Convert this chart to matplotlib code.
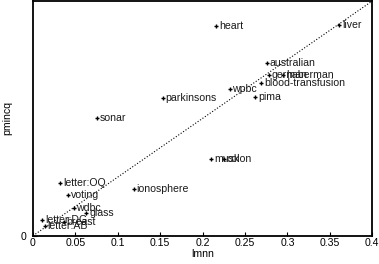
import matplotlib
matplotlib.use("Agg")
import matplotlib.pyplot as plt

# per-dataset error rates: lmnn (x) vs pmincq (y)
names = ["heart", "liver", "australian", "german", "haberman", "blood-transfusion",
         "wpbc", "pima", "parkinsons", "sonar", "musk", "colon",
         "letter:OQ", "voting", "ionosphere", "wdbc", "glass", "breast",
         "letter:DG", "letter:AB"]
lmnn = [0.216, 0.361, 0.276, 0.278, 0.295, 0.269,
        0.232, 0.262, 0.153, 0.075, 0.210, 0.225,
        0.032, 0.041, 0.119, 0.048, 0.063, 0.036,
        0.011, 0.014]
pmincq = [0.357, 0.360, 0.294, 0.274, 0.274, 0.260,
          0.250, 0.237, 0.235, 0.201, 0.131, 0.131,
          0.090, 0.069, 0.080, 0.047, 0.039, 0.024,
          0.026, 0.017]
xticks = [0, 0.05, 0.1, 0.15, 0.2, 0.25, 0.3, 0.35, 0.4]

plt.rcParams["font.family"] = ["Liberation Sans", "DejaVu Sans"]
fig = plt.figure(figsize=(3.79, 2.64), dpi=100)
ax = fig.add_axes([0.087, 0.107, 0.895, 0.889])

ax.plot([0, 0.4], [0, 0.4], ":", color="black", linewidth=0.8)
ax.plot(lmnn, pmincq, "+", color="black", markersize=3, markeredgewidth=1)
for n, x, y in zip(names, lmnn, pmincq):
    ax.annotate(n, (x, y), xytext=(2, 0), textcoords="offset points",
                va="center", ha="left", fontsize=7.6, color="#1a1a1a")

ax.set_xlim(0, 0.4)
ax.set_ylim(0, 0.4)
ax.set_xticks(xticks)
ax.set_xticklabels(["0", "0.05", "0.1", "0.15", "0.2", "0.25", "0.3", "0.35", "0.4"])
ax.set_yticks([0])
ax.set_yticklabels(["0"])
ax.tick_params(direction="in", length=3, labelsize=7.6)
ax.tick_params(axis="x", pad=1.5)
ax.tick_params(axis="y", pad=4.5)
for s in ax.spines.values():
    s.set_linewidth(1.3)
ax.set_xlabel("lmnn", fontsize=7.6, labelpad=0.5)
ax.set_ylabel("pmincq", fontsize=7.6, labelpad=6)

fig.savefig("out.png", dpi=100)
